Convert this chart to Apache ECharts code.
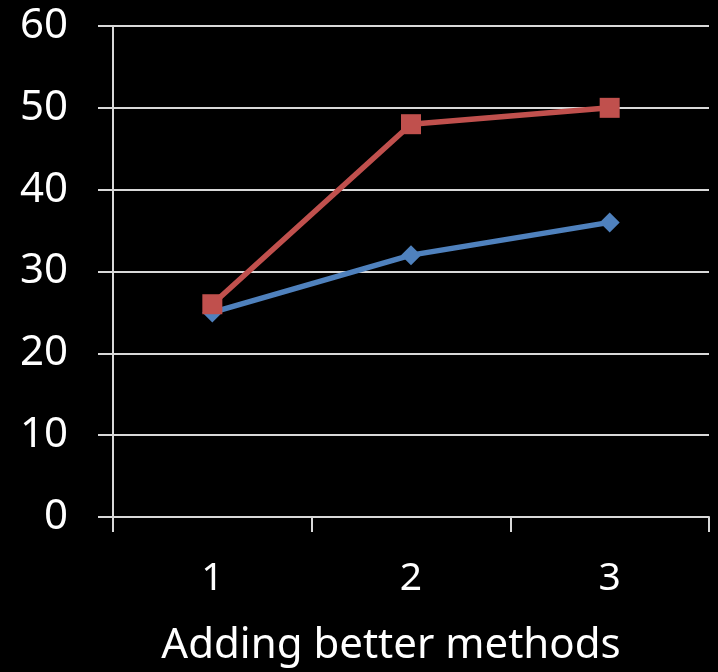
<!DOCTYPE html>
<html><head><meta charset="utf-8">
<script src="https://cdn.jsdelivr.net/npm/echarts@6/dist/echarts.min.js"></script>
<style>html,body{margin:0;padding:0;background:#000;}#c{width:718px;height:672px;}</style>
</head><body><div id="c"></div>
<script>
var categories = ['1', '2', '3'];
var blueValues = [25, 32, 36];
var redValues = [26, 48, 50];
var xAxisName = 'Adding better methods';

var chart = echarts.init(document.getElementById('c'), null, {renderer: 'canvas'});
chart.setOption({
  backgroundColor: '#000000',
  animation: false,
  grid: {left: 113, right: 9, top: 26, bottom: 155, containLabel: false},
  xAxis: {
    type: 'category', data: categories, boundaryGap: true,
    axisLine: {lineStyle: {color: '#d9d9d9', width: 2}},
    axisTick: {show: true, length: 15, lineStyle: {color: '#d9d9d9', width: 2}},
    axisLabel: {color: '#ffffff', fontFamily: 'Noto Sans', fontSize: 39, margin: 42},
    name: xAxisName, nameLocation: 'middle', nameGap: 108,
    nameTextStyle: {color: '#ffffff', fontFamily: 'Noto Sans', fontSize: 42, padding: [0, 40, 0, 0]}
  },
  yAxis: {
    type: 'value', min: 0, max: 60, interval: 10,
    axisLine: {show: true, lineStyle: {color: '#d9d9d9', width: 2}},
    axisTick: {show: true, length: 15, lineStyle: {color: '#d9d9d9', width: 2}},
    splitLine: {show: true, lineStyle: {color: '#d9d9d9', width: 2}},
    axisLabel: {color: '#ffffff', fontFamily: 'Noto Sans', fontSize: 42, margin: 45}
  },
  series: [
    {type: 'line', data: blueValues, symbol: 'diamond', symbolSize: 20,
     lineStyle: {color: '#4F81BD', width: 5.5}, itemStyle: {color: '#4F81BD'}, z: 2},
    {type: 'line', data: redValues, symbol: 'rect', symbolSize: 20,
     lineStyle: {color: '#C0504D', width: 5.5}, itemStyle: {color: '#C0504D'}, z: 3}
  ]
});
</script></body></html>
